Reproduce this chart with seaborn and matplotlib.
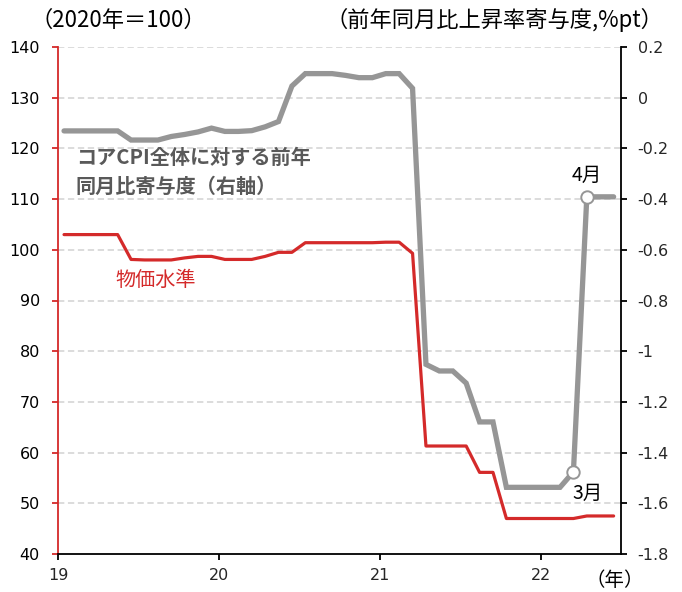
import numpy as np
import pandas as pd
import matplotlib
matplotlib.use("Agg")
import matplotlib.pyplot as plt
import seaborn as sns

# ---- data ----
months = pd.date_range("2019-01-01", periods=42, freq="MS")
price_level = [103.0, 103.0, 103.0, 103.0, 103.0, 98.1, 98.0, 98.0, 98.0, 98.4,
               98.7, 98.7, 98.1, 98.1, 98.1, 98.7, 99.5, 99.5, 101.4, 101.4,
               101.4, 101.4, 101.4, 101.4, 101.5, 101.5, 99.3, 61.3, 61.3, 61.3,
               61.3, 56.1, 56.1, 47.0, 47.0, 47.0, 47.0, 47.0, 47.0, 47.5,
               47.5, 47.5]
contribution = [-0.131, -0.131, -0.131, -0.131, -0.131, -0.167, -0.167, -0.167, -0.153, -0.145,
                -0.135, -0.120, -0.133, -0.133, -0.130, -0.115, -0.094, 0.046, 0.095, 0.095,
                0.095, 0.088, 0.079, 0.079, 0.095, 0.095, 0.037, -1.052, -1.078, -1.078,
                -1.126, -1.279, -1.279, -1.537, -1.537, -1.537, -1.537, -1.537, -1.476, -0.391,
                -0.391, -0.391]
marked_months = ["2022-03", "2022-04"]
marked_labels = ["3月", "4月"]
x_ticks = [19, 20, 21, 22]
left_ticks = [40, 50, 60, 70, 80, 90, 100, 110, 120, 130, 140]
right_ticks = [0.2, 0, -0.2, -0.4, -0.6, -0.8, -1, -1.2, -1.4, -1.6, -1.8]
right_tick_labels = ["0.2", "0", "-0.2", "-0.4", "-0.6", "-0.8", "-1", "-1.2", "-1.4", "-1.6", "-1.8"]

# ---- style ----
sns.set_theme(style="white")
plt.rcParams["font.family"] = ["Noto Sans CJK JP", "DejaVu Sans"]
plt.rcParams["axes.unicode_minus"] = False

RED = "#d42a2a"
GRAY = "#969696"
TEXT_GRAY = "#595959"
TICK_FS = 11.5

df = pd.DataFrame({"month": months, "price": price_level, "contrib": contribution})
df["x"] = (df["month"].dt.year - 2000) + (df["month"].dt.month - 1 + 0.45) / 12.0

fig = plt.figure(figsize=(6.82, 5.92), dpi=100)
ax = fig.add_axes([58 / 682, 1 - 554 / 592, (621 - 58) / 682, (554 - 47) / 592])
ax2 = ax.twinx()

# grid
for v in left_ticks[1:]:
    ax.axhline(v, color="#d9d9d9", lw=1.3, ls=(0, (3.5, 2)), zorder=0)

sns.lineplot(data=df, x="x", y="price", ax=ax, color=RED, lw=2.3, zorder=3)
sns.lineplot(data=df, x="x", y="contrib", ax=ax2, color=GRAY, lw=3.8, zorder=3,
             solid_joinstyle="miter")

mk = df[df["month"].dt.strftime("%Y-%m").isin(marked_months)]
sns.scatterplot(data=mk, x="x", y="contrib", ax=ax2, s=80, color="white",
                edgecolor=GRAY, linewidth=1.4, zorder=5)

ax.set_xlim(19, 22.5)
ax.set_ylim(40, 140)
ax2.set_ylim(-1.8, 0.2)
ax.set_xlabel("")
ax.set_ylabel("")
ax2.set_xlabel("")
ax2.set_ylabel("")

ax.set_xticks(x_ticks)
ax.set_xticklabels([str(t) for t in x_ticks], family="DejaVu Sans", fontsize=TICK_FS)
ax.set_yticks(left_ticks)
ax.set_yticklabels([str(t) for t in left_ticks], family="DejaVu Sans", fontsize=TICK_FS)
ax2.set_yticks(right_ticks)
ax2.set_yticklabels(right_tick_labels, family="DejaVu Sans", fontsize=TICK_FS)

for s in ["top"]:
    ax.spines[s].set_visible(False)
    ax2.spines[s].set_visible(False)
ax.spines["left"].set_color(RED)
ax2.spines["left"].set_visible(False)
ax.spines["right"].set_visible(False)
ax.spines["bottom"].set_color("black")
ax2.spines["bottom"].set_visible(False)
ax2.spines["right"].set_color("black")
for sp in ["left", "bottom"]:
    ax.spines[sp].set_linewidth(1.3)
ax2.spines["right"].set_linewidth(1.3)

ax.tick_params(axis="y", direction="out", length=4, width=1.3, color=RED, pad=9, left=True, labelcolor="black")
ax.tick_params(axis="x", direction="out", length=4, width=1.3, color="black", pad=6, bottom=True)
ax2.tick_params(axis="y", direction="out", length=4, width=1.3, color="black", pad=8, right=True)

# annotations
ax.text(19.11, 115.4, "コアCPI全体に対する前年\n同月比寄与度（右軸）", fontsize=14.5,
        fontweight="bold", color=TEXT_GRAY, ha="left", va="center", linespacing=1.45)
ax.text(19.354, 94.0, "物価水準", fontsize=14.5, color=RED, ha="left", va="center")
for (_, row), lab in zip(mk.iterrows(), marked_labels):
    dy = -0.085 if lab == "3月" else 0.085
    ax2.text(row["x"] + (0.09 if lab == "3月" else 0.0), row["contrib"] + dy, lab,
             fontsize=14, color="black", ha="center", va="center")

fig.text(118 / 682, 1 - 20 / 592, "（2020年＝100）", fontsize=16, ha="center", va="center", color="black")
fig.text(494 / 682, 1 - 20 / 592, "（前年同月比上昇率寄与度,%pt）", fontsize=16, ha="center", va="center", color="black")
fig.text(615 / 682, 1 - 580 / 592, "（年）", fontsize=14, ha="center", va="center", color="black")

fig.savefig("out.png", dpi=100)
